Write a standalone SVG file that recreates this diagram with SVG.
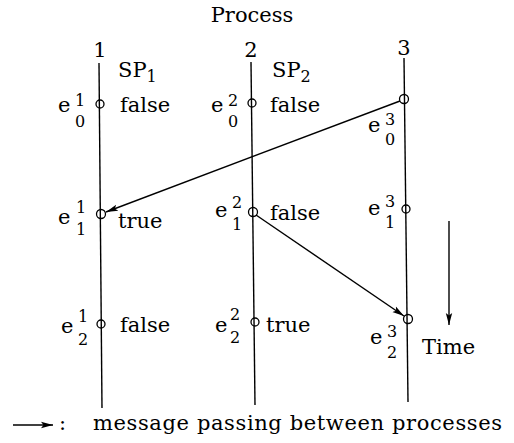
<svg xmlns="http://www.w3.org/2000/svg" width="514" height="443" viewBox="0 0 514 443">
<defs>
<marker id="ah" viewBox="0 0 12 8" refX="12" refY="4" markerWidth="12" markerHeight="8" markerUnits="userSpaceOnUse" orient="auto">
<path d="M0,0.8 L12,4 L0,7.2 L2.5,4 Z" fill="#000"/>
</marker>
<style>
text{font-family:"DejaVu Serif","Liberation Serif",serif;font-size:21px;fill:#000}
.s{font-size:16px}
.ln{stroke:#000;stroke-width:1.4;fill:none}
.ev{stroke:#000;stroke-width:1.3;fill:none}
</style>
</defs>
<rect width="514" height="443" fill="#fff"/>
<text x="252" y="22" text-anchor="middle">Process</text>
<g id="p1">
<text x="100" y="57" text-anchor="middle">1</text>
<line class="ln" x1="99" y1="63" x2="102" y2="408"/>
<text x="118" y="77">SP<tspan class="s" dy="5">1</tspan></text>
</g>
<g id="p2">
<text x="251" y="57" text-anchor="middle">2</text>
<line class="ln" x1="251" y1="62" x2="255" y2="405"/>
<text x="272" y="77">SP<tspan class="s" dy="5">2</tspan></text>
</g>
<g id="p3">
<text x="404" y="55" text-anchor="middle">3</text>
<line class="ln" x1="404" y1="58" x2="408" y2="402"/>
</g>
<g id="e10">
<circle class="ev" cx="100" cy="104" r="4"/>
<text x="58" y="112">e</text><text class="s" x="75" y="106">1</text><text class="s" x="75" y="127">0</text>
<text x="120" y="112">false</text>
</g>
<g id="e20">
<circle class="ev" cx="252" cy="103" r="4"/>
<text x="211" y="112">e</text><text class="s" x="228" y="106">2</text><text class="s" x="228" y="127">0</text>
<text x="270" y="112">false</text>
</g>
<g id="e30">
<circle class="ev" cx="404" cy="99" r="4.5"/>
<text x="368" y="132">e</text><text class="s" x="385" y="125">3</text><text class="s" x="385" y="145">0</text>
</g>
<g id="e11">
<circle class="ev" cx="101" cy="214" r="4.5"/>
<text x="58" y="224">e</text><text class="s" x="76" y="213">1</text><text class="s" x="76" y="235">1</text>
<text x="118" y="228">true</text>
</g>
<g id="e21">
<circle class="ev" cx="253" cy="212" r="4.5"/>
<text x="215" y="217">e</text><text class="s" x="232" y="208">2</text><text class="s" x="232" y="230">1</text>
<text x="270" y="220">false</text>
</g>
<g id="e31">
<circle class="ev" cx="406" cy="209" r="4"/>
<text x="368" y="215">e</text><text class="s" x="385" y="207">3</text><text class="s" x="385" y="228">1</text>
</g>
<g id="e12">
<circle class="ev" cx="101" cy="324" r="4"/>
<text x="61" y="333">e</text><text class="s" x="78" y="322">1</text><text class="s" x="78" y="345">2</text>
<text x="120" y="332">false</text>
</g>
<g id="e22">
<circle class="ev" cx="255" cy="322" r="4"/>
<text x="215" y="332">e</text><text class="s" x="230" y="320">2</text><text class="s" x="230" y="343">2</text>
<text x="266" y="332">true</text>
</g>
<g id="e32">
<circle class="ev" cx="408" cy="319" r="4.5"/>
<text x="370" y="344">e</text><text class="s" x="387" y="337">3</text><text class="s" x="387" y="358">2</text>
</g>
<g id="connectors">
<line class="ln" x1="400" y1="101" x2="106" y2="212" marker-end="url(#ah)"/>
<line class="ln" x1="256" y1="215" x2="404" y2="316" marker-end="url(#ah)"/>
<line class="ln" x1="449" y1="221" x2="449" y2="325" marker-end="url(#ah)"/>
</g>
<g id="time">
<text x="422" y="354">Time</text>
</g>
<g id="legend">
<line class="ln" x1="13" y1="425" x2="53" y2="425" marker-end="url(#ah)"/>
<text x="59" y="430">:</text>
<text x="93" y="430" textLength="409" lengthAdjust="spacing">message passing between processes</text>
</g>
</svg>
